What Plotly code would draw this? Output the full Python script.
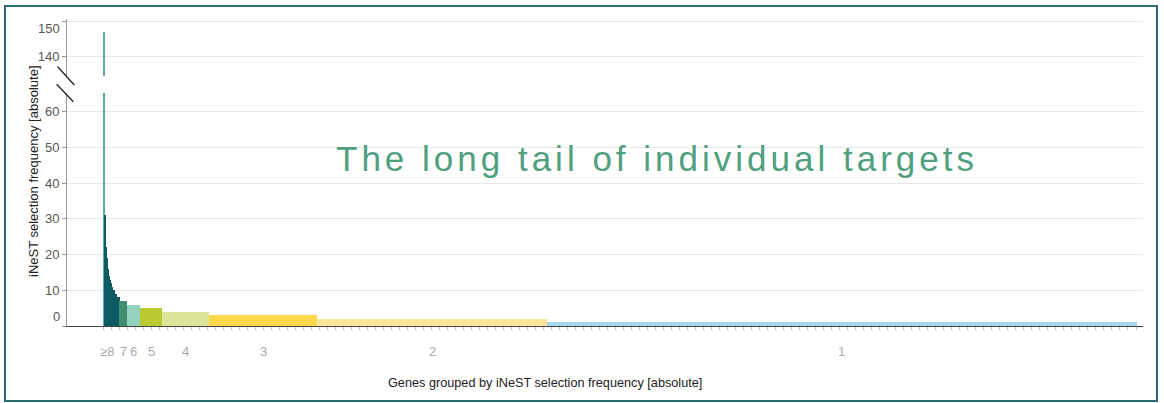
import plotly.graph_objects as go

# ---- data ----
group_labels = ["≥8", "7", "6", "5", "4", "3", "2", "1"]
# individual selection frequencies of the genes in the "≥8" group (sorted)
top_gene_values = [147, 31, 22, 19, 16, 14, 13, 12, 11, 10, 10, 9, 9, 8, 8, 8]
# number of genes in the remaining groups and their frequency
group_counts = [8, 13, 22, 47, 108, 229, 590]
group_values = [7, 6, 5, 4, 3, 2, 1]
group_colors = ["#0c5a62", "#3f8f70", "#93d2be", "#b9cb2f", "#dce49a",
                "#fcd84b", "#fbe69a", "#a7d6ef"]

W, H = 1164, 403
ML, MR, MT, MB = 67, 21, 19, 77
PW, PH = W - ML - MR, H - MT - MB
def px2x(px):
    return (px - ML) / PW
def px2y(py):
    return (H - MB - py) / PH

fig = go.Figure()

# >=8 group: one bar per gene
top_x = [i + 0.5 for i in range(len(top_gene_values))]
top_col = ["#6aa5ad"] + [group_colors[0]] * (len(top_gene_values) - 1)
for xa, ya in (("x", "y"), ("x2", "y2")):
    fig.add_trace(go.Bar(x=top_x, y=top_gene_values, width=1,
                         marker=dict(color=top_col, line=dict(width=0)),
                         xaxis=xa, yaxis=ya, showlegend=False, hoverinfo="skip"))

# remaining groups: one block per group
starts = []
s = len(top_gene_values)
for c in group_counts:
    starts.append(s)
    s += c
total = s
centers = [st + c / 2 for st, c in zip(starts, group_counts)]
fig.add_trace(go.Bar(x=centers, y=group_values, width=group_counts,
                     marker=dict(color=group_colors[1:], line=dict(width=0)),
                     showlegend=False, hoverinfo="skip"))

label_centers = [len(top_gene_values) / 2 - 4] + centers

xr = [-(103.3 - ML), total + 6]
lower_top = 93
upper_bottom = 76
lower_range = [0, (H - MB - lower_top) / 3.575]
upper_range = [150 - (76 - 21) / 3.575, 150 + (21 - MT) / 3.575]

grid = "#e9e9e9"
tickfont = dict(family="Liberation Sans", size=13, color="#555")
fig.update_layout(
    width=W, height=H, autosize=False,
    margin=dict(l=ML, r=MR, t=MT, b=MB),
    paper_bgcolor="white", plot_bgcolor="white",
    bargap=0, barmode="overlay",
    font=dict(family="Liberation Sans"),
    xaxis=dict(range=xr, domain=[0, 1], anchor="y", showline=True, linecolor="#444",
               linewidth=1, zeroline=False, showgrid=False, ticks="outside",
               tickvals=list(range(0, total + 1, 8)), ticklen=3, tickcolor="#c4c4c4",
               showticklabels=False),
    xaxis2=dict(range=xr, domain=[0, 1], anchor="y2", matches="x", visible=False),
    yaxis=dict(domain=[0, px2y(lower_top)], range=lower_range, showline=True,
               linecolor="#999", zeroline=False, showgrid=True, gridcolor=grid,
               tickvals=[0, 10, 20, 30, 40, 50, 60],
               ticktext=["", "10", "20", "30", "40", "50", "60"],
               ticks="outside", ticklen=4, tickcolor="#999", tickfont=tickfont),
    yaxis2=dict(domain=[px2y(upper_bottom), 1], range=upper_range, anchor="x2",
                showline=True, linecolor="#999", zeroline=False, showgrid=True,
                gridcolor=grid, tickvals=[140, 150], ticktext=["140", ""],
                ticks="outside", ticklen=4, tickcolor="#999", tickfont=tickfont),
)

ann = []
# offset tick labels
ann.append(dict(x=px2x(62), y=px2y(316), xref="paper", yref="paper", text="0",
                showarrow=False, xanchor="right", yanchor="middle", font=tickfont))
ann.append(dict(x=px2x(62), y=px2y(28), xref="paper", yref="paper", text="150",
                showarrow=False, xanchor="right", yanchor="middle", font=tickfont))
# group labels
for lab, cx in zip(group_labels, label_centers):
    ann.append(dict(x=cx, y=px2y(351), xref="x", yref="paper", text=lab,
                    showarrow=False, xanchor="center", yanchor="middle",
                    font=dict(family="Liberation Sans", size=13, color="#aaa")))
# axis titles
ann.append(dict(x=px2x(545), y=px2y(383), xref="paper", yref="paper",
                text="Genes grouped by iNeST selection frequency [absolute]",
                showarrow=False, xanchor="center", yanchor="middle",
                font=dict(family="Liberation Sans", size=12.7, color="#222")))
ann.append(dict(x=px2x(33), y=px2y(171), xref="paper", yref="paper",
                text="iNeST selection frequency [absolute]", textangle=-90,
                showarrow=False, xanchor="center", yanchor="middle",
                font=dict(family="Liberation Sans", size=13, color="#222")))
# headline
ann.append(dict(x=px2x(657), y=px2y(158), xref="paper", yref="paper",
                text='<span style="letter-spacing:4px">The long tail of individual targets</span>',
                showarrow=False, xanchor="center", yanchor="middle",
                font=dict(family="Liberation Sans", size=35, color="#50a080")))
fig.update_layout(annotations=ann)

shapes = []
# axis break marks
for (x0, y0, x1, y1) in [(57.7, 66.7, 74.3, 85.0), (56.7, 84.3, 73.3, 101.7)]:
    shapes.append(dict(type="line", xref="paper", yref="paper",
                       x0=px2x(x0), y0=px2y(y0), x1=px2x(x1), y1=px2y(y1),
                       line=dict(color="#222", width=1.3)))
# frame
shapes.append(dict(type="rect", xref="paper", yref="paper",
                   x0=px2x(5), y0=px2y(401), x1=px2x(1157), y1=px2y(6),
                   line=dict(color="#2b6d75", width=2), fillcolor="rgba(0,0,0,0)"))
fig.update_layout(shapes=shapes)

fig.write_html("out.html", config={"displayModeBar": False},
               post_script="document.body.style.margin='0';document.body.style.padding='0';")
